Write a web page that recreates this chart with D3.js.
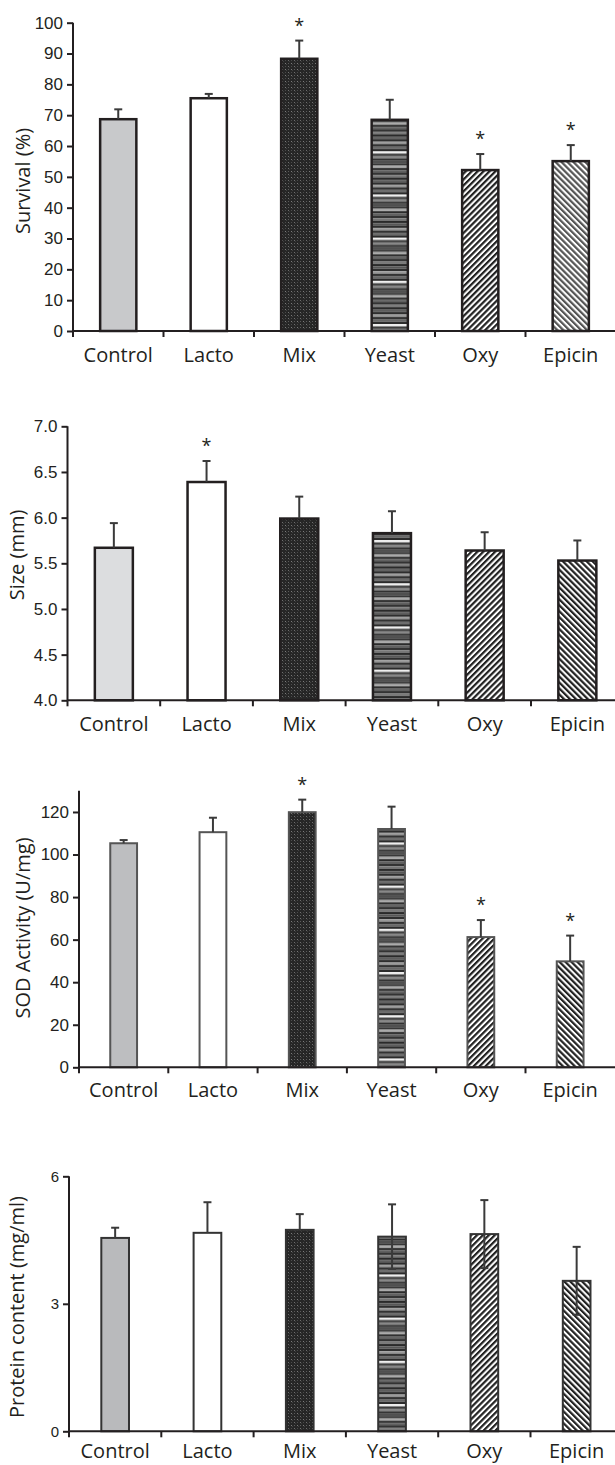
<!DOCTYPE html>
<html>
<head>
<meta charset="utf-8">
<script src="https://cdn.jsdelivr.net/npm/d3@7"></script>
<style>
body { margin: 0; background: #fff; }
svg { display: block; font-family: "Open Sans", sans-serif; }
.axis path, .axis line { stroke: #231f20; stroke-width: 2; }
.axis text { fill: #231f20; }
</style>
</head>
<body>
<div id="chart"></div>
<script>
// data
var categories = ["Control", "Lacto", "Mix", "Yeast", "Oxy", "Epicin"];

var survival = [68.7, 75.5, 88.3, 68.5, 52.2, 55.1];
var survivalErr = [3.2, 1.4, 5.9, 6.5, 5.2, 5.2];
var survivalSig = [false, false, true, false, true, true];
var survivalTicks = [0, 10, 20, 30, 40, 50, 60, 70, 80, 90, 100];

var size = [5.67, 6.39, 5.99, 5.83, 5.64, 5.53];
var sizeErr = [0.27, 0.23, 0.24, 0.24, 0.20, 0.22];
var sizeSig = [false, true, false, false, false, false];
var sizeTicks = [4.0, 4.5, 5.0, 5.5, 6.0, 6.5, 7.0];

var sod = [105.3, 110.5, 119.9, 112.0, 61.2, 49.8];
var sodErr = [1.5, 6.8, 5.9, 10.5, 8.0, 12.1];
var sodSig = [false, false, true, false, true, true];
var sodTicks = [0, 20, 40, 60, 80, 100, 120];

var protein = [4.55, 4.67, 4.74, 4.58, 4.64, 3.54];
var proteinErr = [0.24, 0.72, 0.37, 0.76, 0.80, 0.80];
var proteinLowerBar = [false, false, false, true, true, true];
var proteinTicks = [0, 3, 6];

var width = 615, height = 1465;
var svg = d3.select("#chart").append("svg")
	.attr("width", width)
	.attr("height", height);

var defs = svg.append("defs");

// Mix: dark dotted screen
var pMix = defs.append("pattern").attr("id", "pat_mix")
	.attr("patternUnits", "userSpaceOnUse").attr("width", 6).attr("height", 6);
pMix.append("rect").attr("width", 6).attr("height", 6).attr("fill", "#262626");
[[0, 0, "#6e6e6e"], [3, 0, "#4a4a4a"], [0, 3, "#5a5a5a"], [3, 3, "#7a7a7a"], [1, 1, "#3c3c3c"], [4, 4, "#424242"]].forEach(function(d) {
	pMix.append("rect").attr("x", d[0]).attr("y", d[1]).attr("width", 1).attr("height", 1).attr("fill", d[2]);
});

// Yeast: horizontal stripes of mixed greys
var yeastStripes = ["#333", "#777", "#2a2a2a", "#555", "#2e2e2e", "#999", "#333", "#666", "#2b2b2b", "#eee", "#3a3a3a", "#888", "#2e2e2e", "#505050", "#333", "#aaa", "#2a2a2a", "#606060"];
var pYeast = defs.append("pattern").attr("id", "pat_yeast")
	.attr("patternUnits", "userSpaceOnUse").attr("width", 10).attr("height", yeastStripes.length * 2.4);
yeastStripes.forEach(function(c, i) {
	pYeast.append("rect").attr("x", 0).attr("y", i * 2.4).attr("width", 10).attr("height", 2.4).attr("fill", c);
});

// diagonal hatches
function hatch(id, dir, color, bg) {
	var p = defs.append("pattern").attr("id", id)
		.attr("patternUnits", "userSpaceOnUse").attr("width", 4.2).attr("height", 4.2)
		.attr("patternTransform", "rotate(" + (dir > 0 ? 45 : -45) + ")");
	p.append("rect").attr("width", 4.2).attr("height", 4.2).attr("fill", bg);
	p.append("rect").attr("x", 0).attr("y", 0).attr("width", 2.2).attr("height", 4.2).attr("fill", color);
}
hatch("pat_oxy", 1, "#222", "#fff");
hatch("pat_epi_light", -1, "#555", "#fff");
hatch("pat_epi", -1, "#222", "#fff");

function drawPanel(p) {
	var values = p.values;
	var x = d3.scaleBand()
		.domain(categories)
		.range([p.left, p.left + p.band * 6])
		.paddingInner(0).paddingOuter(0);
	var y = d3.scaleLinear()
		.domain(p.domain)
		.range([p.bottom, p.top]);

	var g = svg.append("g");
	var barW = p.band * p.barFrac;

	var fills = [p.controlFill, "#fff", "url(#pat_mix)", "url(#pat_yeast)", "url(#pat_oxy)", p.epiFill];

	// upper error bars, drawn before the bars
	var errG = g.append("g");
	values.forEach(function(v, i) {
		var cx = x(categories[i]) + x.bandwidth() / 2;
		var hi = v + p.err[i];
		errG.append("line")
			.attr("x1", cx).attr("x2", cx)
			.attr("y1", y(v)).attr("y2", y(hi))
			.attr("stroke", "#3a3a3a").attr("stroke-width", 2);
		errG.append("line")
			.attr("x1", cx - 4).attr("x2", cx + 4)
			.attr("y1", y(hi)).attr("y2", y(hi))
			.attr("stroke", "#3a3a3a").attr("stroke-width", 2);
		if(p.sig && p.sig[i]) {
			g.append("text")
				.attr("x", cx).attr("y", y(hi) - 9)
				.attr("text-anchor", "middle")
				.attr("font-size", 18)
				.attr("fill", "#231f20")
				.text("*");
		}
	});

	g.selectAll("rect.bar")
		.data(values)
		.enter()
		.insert("rect", function() { return errG.node(); })
		.attr("class", "bar")
		.attr("x", function(d, i) { return x(categories[i]) + (x.bandwidth() - barW) / 2; })
		.attr("y", function(d) { return y(d); })
		.attr("width", barW)
		.attr("height", function(d) { return y(p.domain[0]) - y(d); })
		.attr("fill", function(d, i) { return fills[i]; })
		.attr("stroke", p.barStroke)
		.attr("stroke-width", p.barStrokeW);

	// lower error segments drawn on top of the bars
	values.forEach(function(v, i) {
		if(p.lower && p.lower[i]) {
			var cx = x(categories[i]) + x.bandwidth() / 2;
			g.append("line")
				.attr("x1", cx).attr("x2", cx)
				.attr("y1", y(v - p.err[i])).attr("y2", y(v))
				.attr("stroke", "#3a3a3a").attr("stroke-width", 2);
			g.append("line")
				.attr("x1", cx - 4).attr("x2", cx + 4)
				.attr("y1", y(v - p.err[i])).attr("y2", y(v - p.err[i]))
				.attr("stroke", "#3a3a3a").attr("stroke-width", 2);
		}
	});

	// y axis
	var yAxis = d3.axisLeft(y)
		.tickValues(p.ticks)
		.tickSize(6)
		.tickPadding(4)
		.tickFormat(p.fmt);
	var ya = g.append("g")
		.attr("class", "axis")
		.attr("transform", "translate(" + p.left + ",0)")
		.call(yAxis);
	ya.select(".domain").attr("d", "M0," + p.top + "V" + p.bottom);
	ya.selectAll("text").attr("font-size", p.tickFont);

	// x axis with ticks on band edges
	var xa = g.append("g")
		.attr("class", "axis")
		.attr("transform", "translate(0," + p.bottom + ")");
	xa.append("line")
		.attr("x1", p.left).attr("x2", width)
		.attr("y1", 0).attr("y2", 0);
	var edges = [p.left];
	categories.forEach(function(c, i) { if(i > 0) edges.push(x(c)); });
	xa.selectAll("line.tk")
		.data(edges)
		.enter()
		.append("line")
		.attr("class", "tk")
		.attr("x1", function(d) { return d; }).attr("x2", function(d) { return d; })
		.attr("y1", 0).attr("y2", 6);
	xa.selectAll("text")
		.data(categories)
		.enter()
		.append("text")
		.attr("x", function(d) { return x(d) + x.bandwidth() / 2; })
		.attr("y", p.labelY)
		.attr("text-anchor", "middle")
		.attr("font-size", 20)
		.text(function(d) { return d; });

	// y title
	g.append("text")
		.attr("transform", "translate(" + p.titleX + "," + p.titleY + ") rotate(-90)")
		.attr("text-anchor", "middle")
		.attr("font-size", 20)
		.attr("fill", "#231f20")
		.text(p.title);
}

drawPanel({
	values: survival, err: survivalErr, sig: survivalSig, ticks: survivalTicks,
	domain: [0, 100], top: 22.7, bottom: 331, left: 73, band: 90.5, barFrac: 0.4,
	controlFill: "#c8c9cb", epiFill: "url(#pat_epi_light)",
	barStroke: "#231f20", barStrokeW: 2.5, tickFont: 17, labelY: 31,
	fmt: d3.format("d"), title: "Survival (%)", titleX: 30, titleY: 181
});

drawPanel({
	values: size, err: sizeErr, sig: sizeSig, ticks: sizeTicks,
	domain: [4, 7], top: 426.3, bottom: 700.3, left: 67.5, band: 92.7, barFrac: 0.41,
	controlFill: "#dcdddf", epiFill: "url(#pat_epi)",
	barStroke: "#231f20", barStrokeW: 2.5, tickFont: 17, labelY: 31,
	fmt: d3.format(".1f"), title: "Size (mm)", titleX: 24, titleY: 555
});

drawPanel({
	values: sod, err: sodErr, sig: sodSig, ticks: sodTicks,
	domain: [0, 130], top: 790.7, bottom: 1067.3, left: 79, band: 89.3, barFrac: 0.3,
	controlFill: "#bdbec0", epiFill: "url(#pat_epi)",
	barStroke: "#555", barStrokeW: 2, tickFont: 17, labelY: 30,
	fmt: d3.format("d"), title: "SOD Activity (U/mg)", titleX: 30, titleY: 928
});

drawPanel({
	values: protein, err: proteinErr, lower: proteinLowerBar, ticks: proteinTicks,
	domain: [0, 6], top: 1176.3, bottom: 1431.3, left: 69, band: 92.3, barFrac: 0.3,
	controlFill: "#b9babc", epiFill: "url(#pat_epi)",
	barStroke: "#333", barStrokeW: 2, tickFont: 15, labelY: 27,
	fmt: d3.format("d"), title: "Protein content (mg/ml)", titleX: 24, titleY: 1307
});
</script>
</body>
</html>
